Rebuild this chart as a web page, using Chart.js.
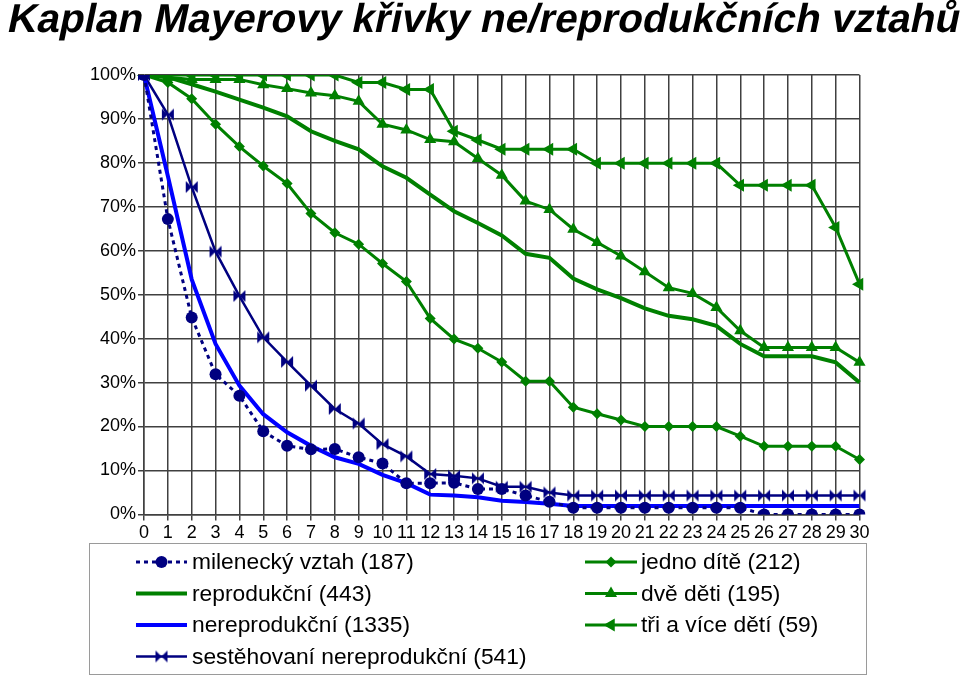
<!DOCTYPE html>
<html>
<head>
<meta charset="utf-8">
<script src="https://cdn.jsdelivr.net/npm/chart.js@4/dist/chart.umd.min.js"></script>
<style>
html,body{margin:0;padding:0;background:#fff;}
#wrap{position:relative;width:960px;height:676px;}
</style>
</head>
<body>
<div id="wrap"><canvas id="c" width="960" height="676"></canvas></div>
<script>
const dayLabels = ['0','1','2','3','4','5','6','7','8','9','10','11','12','13','14','15','16','17','18','19','20','21','22','23','24','25','26','27','28','29','30'];

const milenecky = [100,67.2,44.8,31.9,27.0,18.9,15.6,14.8,14.9,13.0,11.6,7.1,7.1,7.2,5.8,5.8,4.3,2.9,1.5,1.5,1.5,1.5,1.5,1.5,1.5,1.5,0,0,0,0,0];
const reprodukcni = [100,99.5,97.9,96.2,94.4,92.6,90.6,87.2,85.0,83.1,79.2,76.6,72.8,69.0,66.3,63.5,59.3,58.4,53.7,51.2,49.2,46.9,45.2,44.4,42.9,38.8,36.0,36.0,36.0,34.6,30.0];
const nereprodukcni = [100,77.0,53.5,38.8,29.3,22.8,18.7,15.6,13.0,11.5,9.0,7.1,4.5,4.3,3.9,3.1,2.8,2.4,1.9,1.9,1.9,1.9,1.9,1.9,1.9,1.9,1.9,1.9,1.9,1.9,1.9];
const sestehovani = [100,91.0,74.5,59.8,49.7,40.3,34.7,29.3,24.0,20.7,16.0,13.2,9.2,8.8,8.2,6.3,6.3,5.0,4.3,4.3,4.3,4.3,4.3,4.3,4.3,4.3,4.3,4.3,4.3,4.3,4.3];
const jednoDite = [100,98.3,94.6,88.8,83.7,79.3,75.3,68.5,64.1,61.5,57.1,53.0,44.6,39.9,37.8,34.7,30.3,30.3,24.4,22.9,21.5,20.0,20.0,20.0,20.0,17.8,15.5,15.5,15.5,15.5,12.5];
const dveDeti = [100,99.5,99.0,99.0,99.0,97.8,96.9,95.9,95.3,94.0,88.8,87.5,85.3,84.8,81.0,77.2,71.3,69.4,64.9,61.9,58.8,55.2,51.6,50.3,47.1,41.8,38.0,38.0,38.0,38.0,34.6];
const triDeti = [100,100,100,100,100,100,100,100,100,98.3,98.3,96.7,96.7,87.2,85.2,83.1,83.1,83.1,83.1,79.9,79.9,79.9,79.9,79.9,79.9,74.9,74.9,74.9,74.9,65.3,52.4];

const seriesNames = ['milenecký vztah (187)','reprodukční (443)','nereprodukční (1335)','sestěhovaní nereprodukční (541)','jedno dítě (212)','dvě děti (195)','tři a více dětí (59)'];
const chartTitle = 'Kaplan Mayerovy křivky ne/reprodukčních vztahů';

const NAVY = '#000080', BLUE = '#0000ff', GREEN = '#008000';
const FONT = '"Liberation Sans", Arial, sans-serif';

function bowtie(color){
  const cv = document.createElement('canvas');
  cv.width = 14; cv.height = 14;
  const g = cv.getContext('2d');
  g.fillStyle = color;
  g.beginPath(); g.moveTo(1,1); g.lineTo(7,7); g.lineTo(1,13); g.closePath(); g.fill();
  g.beginPath(); g.moveTo(13,1); g.lineTo(7,7); g.lineTo(13,13); g.closePath(); g.fill();
  return cv;
}
const bowtieImg = bowtie(NAVY);

const datasets = [
  {label: seriesNames[0], data: milenecky, borderColor: NAVY, backgroundColor: NAVY, borderWidth: 3, borderDash: [4,4], pointStyle: 'circle', pointRadius: 6, pointBorderWidth: 0},
  {label: seriesNames[1], data: reprodukcni, borderColor: GREEN, backgroundColor: GREEN, borderWidth: 4, pointRadius: 0},
  {label: seriesNames[2], data: nereprodukcni, borderColor: BLUE, backgroundColor: BLUE, borderWidth: 4, pointRadius: 0},
  {label: seriesNames[3], data: sestehovani, borderColor: NAVY, backgroundColor: NAVY, borderWidth: 2.5, pointStyle: bowtieImg, pointRadius: 7},
  {label: seriesNames[4], data: jednoDite, borderColor: GREEN, backgroundColor: GREEN, borderWidth: 3, pointStyle: 'rectRot', pointRadius: 5.5, pointBorderWidth: 0},
  {label: seriesNames[5], data: dveDeti, borderColor: GREEN, backgroundColor: GREEN, borderWidth: 3, pointStyle: 'triangle', pointRadius: 7, pointBorderWidth: 0},
  {label: seriesNames[6], data: triDeti, borderColor: GREEN, backgroundColor: GREEN, borderWidth: 3, pointStyle: 'triangle', pointRotation: -90, pointRadius: 7.5, pointBorderWidth: 0}
];

const titlePlugin = {
  id: 'skewTitle',
  afterDraw(chart){
    const ctx = chart.ctx;
    ctx.save();
    ctx.font = 'bold 40.5px ' + FONT;
    ctx.fillStyle = '#000';
    ctx.textBaseline = 'alphabetic';
    const w = ctx.measureText(chartTitle).width;
    const baseY = 32;
    ctx.translate(482, baseY);
    ctx.transform(1, 0, -0.21, 1, 0, 0);
    ctx.fillText(chartTitle, -w / 2, 0);
    ctx.restore();
  }
};

const legendPlugin = {
  id: 'boxLegend',
  afterDraw(chart){
    const ctx = chart.ctx;
    ctx.save();
    ctx.strokeStyle = '#9a9a9a';
    ctx.lineWidth = 1;
    ctx.strokeRect(89.5, 543.5, 777, 131);
    const cols = [{x0:136, x1:187, tx:192, items:[0,1,2,3]}, {x0:585, x1:637, tx:641, items:[4,5,6]}];
    const rowY = [562, 593.5, 625, 656.5];
    ctx.font = '22.8px ' + FONT;
    ctx.textBaseline = 'middle';
    cols.forEach(col => {
      col.items.forEach((di, r) => {
        const ds = chart.data.datasets[di];
        const y = rowY[r];
        ctx.save();
        ctx.strokeStyle = ds.borderColor;
        ctx.lineWidth = ds.borderWidth;
        ctx.setLineDash(ds.borderDash || []);
        ctx.beginPath(); ctx.moveTo(col.x0, y); ctx.lineTo(col.x1, y); ctx.stroke();
        ctx.restore();
        if (ds.pointRadius > 0) {
          ctx.save();
          ctx.fillStyle = ds.backgroundColor;
          ctx.strokeStyle = ds.backgroundColor;
          Chart.helpers.drawPoint(ctx, {pointStyle: ds.pointStyle, radius: ds.pointRadius, rotation: ds.pointRotation || 0, borderWidth: 0}, (col.x0 + col.x1) / 2, y);
          ctx.restore();
        }
        ctx.fillStyle = '#000';
        ctx.fillText(ds.label, col.tx, y + 1);
      });
    });
    ctx.restore();
  }
};

new Chart(document.getElementById('c'), {
  type: 'line',
  data: {labels: dayLabels, datasets: datasets},
  plugins: [titlePlugin, legendPlugin],
  options: {
    responsive: false,
    animation: false,
    layout: {padding: {left: 89, right: 100.5, top: 75, bottom: 130}},
    plugins: {
      legend: {display: false},
      tooltip: {enabled: false},
      title: {display: false}
    },
    elements: {line: {tension: 0}},
    scales: {
      x: {
        offset: false,
        grid: {color: '#404040', lineWidth: 1.5, tickLength: 6, drawTicks: true},
        border: {color: '#404040', width: 1.5},
        ticks: {color: '#000', font: {family: FONT, size: 18}, autoSkip: false, maxRotation: 0, padding: 2}
      },
      y: {
        min: 0, max: 100,
        afterFit(scale){ scale.width = 55; },
        grid: {color: '#404040', lineWidth: 1.5, tickLength: 6},
        border: {color: '#404040', width: 1.5},
        ticks: {stepSize: 10, color: '#000', font: {family: FONT, size: 18}, padding: 2, callback: v => v + '%'}
      }
    }
  }
});
</script>
</body>
</html>
